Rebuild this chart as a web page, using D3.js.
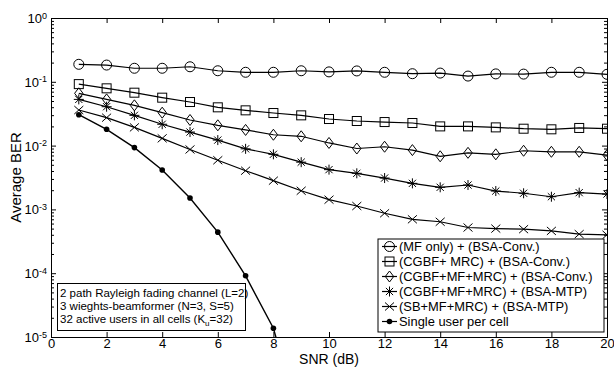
<!DOCTYPE html>
<html lang="en">
<head>
<meta charset="UTF-8">
<title>Average BER vs SNR</title>
<script src="https://d3js.org/d3.v7.min.js"></script>
<style>
  body { margin: 0; background: #fff; }
  text { font-family: "Liberation Sans", Arial, sans-serif; fill: #000; }
</style>
</head>
<body>
<div id="chart"></div>
<script>
// SNR points (dB)
const snr = [1, 2, 3, 4, 5, 6, 7, 8, 9, 10, 11, 12, 13, 14, 15, 16, 17, 18, 19, 20];

// Average BER
const berMF = [0.188, 0.183, 0.163, 0.163, 0.172, 0.149, 0.141, 0.141, 0.149, 0.143,
               0.148, 0.141, 0.134, 0.137, 0.123, 0.133, 0.132, 0.141, 0.141, 0.131];
const berCGBF = [0.092, 0.079, 0.0675, 0.0564, 0.0482, 0.0398, 0.0357, 0.0324, 0.0298, 0.0261,
                 0.0243, 0.0234, 0.0226, 0.0200, 0.0200, 0.0193, 0.0184, 0.0180, 0.0189, 0.0184];
const berCGBFMF = [0.066, 0.053, 0.0428, 0.0328, 0.0252, 0.0208, 0.0176, 0.0148, 0.0140, 0.0110,
                   0.0090, 0.0096, 0.0085, 0.0068, 0.0077, 0.0073, 0.0083, 0.0080, 0.0080, 0.0071];
const berCGBFMTP = [0.053, 0.0407, 0.0298, 0.0216, 0.0163, 0.0122, 0.0089, 0.0073, 0.0055, 0.0042,
                    0.00368, 0.0031, 0.00256, 0.00222, 0.00241, 0.00194, 0.00179, 0.00158, 0.00183, 0.00174];
const berSB = [0.0361, 0.0274, 0.0193, 0.0130, 0.0087, 0.0059, 0.00404, 0.00282, 0.00196, 0.00142,
               0.00113, 0.00087, 0.00070, 0.00064, 0.00052, 0.00050, 0.00049, 0.00046, 0.00041, 0.00040];
const snrSingle = [1, 2, 3, 4, 5, 6, 7, 8, 9];
const berSingle = [0.0305, 0.018, 0.0093, 0.00415, 0.00151, 0.00044, 0.000091, 0.0000137, 0.0000004];

const legendLabels = [
  "(MF only) + (BSA-Conv.)",
  "(CGBF+ MRC) + (BSA-Conv.)",
  "(CGBF+MF+MRC) + (BSA-Conv.)",
  "(CGBF+MF+MRC) + (BSA-MTP)",
  "(SB+MF+MRC) + (BSA-MTP)",
  "Single user per cell"
];
const xTicks = [0, 2, 4, 6, 8, 10, 12, 14, 16, 18, 20];
const yDecades = [1e-5, 1e-4, 1e-3, 1e-2, 1e-1, 1];
const yExponents = ["-5", "-4", "-3", "-2", "-1", "0"];
const noteLines = ["2 path Rayleigh fading channel (L=2)", "3 wieghts-beamformer (N=3, S=5)"];

const width = 614, height = 367;
const margin = { top: 18, right: 7, bottom: 30, left: 51 };

const svg = d3.select('#chart').append('svg')
  .attr('width', width)
  .attr('height', height);

const x = d3.scaleLinear().domain([0, 20]).range([margin.left, width - margin.right]);
const y = d3.scaleLog().domain([1e-5, 1]).range([height - margin.bottom, margin.top]);

// minor log ticks
const minor = [];
yDecades.slice(0, -1).forEach(d => { for (let k = 2; k <= 9; k++) minor.push(d * k); });

// marker shapes (Matlab style)
function marker(g, type) {
  if (type === 'o') {
    g.append('circle').attr('r', 5).attr('fill', 'none').attr('stroke', '#000');
  } else if (type === 's') {
    g.append('rect').attr('x', -4.5).attr('y', -4.5).attr('width', 9).attr('height', 9)
      .attr('fill', 'none').attr('stroke', '#000');
  } else if (type === 'd') {
    g.append('path').attr('d', 'M0,-5.5L4.2,0L0,5.5L-4.2,0Z').attr('fill', 'none').attr('stroke', '#000');
  } else if (type === '*') {
    g.append('path').attr('d', 'M0,-5V5M-5,0H5M-3.6,-3.6L3.6,3.6M-3.6,3.6L3.6,-3.6')
      .attr('stroke', '#000');
  } else if (type === 'x') {
    g.append('path').attr('d', 'M-4.5,-4L4.5,4M-4.5,4L4.5,-4').attr('stroke', '#000');
  } else if (type === '.') {
    g.append('circle').attr('r', 2.8).attr('fill', '#000');
  }
}

const series = [
  { xs: snr, ys: berMF, m: 'o' },
  { xs: snr, ys: berCGBF, m: 's' },
  { xs: snr, ys: berCGBFMF, m: 'd' },
  { xs: snr, ys: berCGBFMTP, m: '*' },
  { xs: snr, ys: berSB, m: 'x' },
  { xs: snrSingle, ys: berSingle, m: '.' }
];

// clip to plot area
svg.append('clipPath').attr('id', 'clip').append('rect')
  .attr('x', margin.left).attr('y', margin.top)
  .attr('width', width - margin.left - margin.right)
  .attr('height', height - margin.top - margin.bottom);

const plot = svg.append('g').attr('clip-path', 'url(#clip)');

const line = d3.line().x(d => x(d[0])).y(d => y(d[1]));

series.forEach(s => {
  const pts = s.xs.map((v, i) => [v, s.ys[i]]);
  plot.append('path')
    .datum(pts)
    .attr('fill', 'none')
    .attr('stroke', '#000')
    .attr('stroke-width', s.m === '.' ? 1.4 : 1.2)
    .attr('d', line);
  plot.selectAll(null)
    .data(pts.filter(p => p[1] >= 1e-5))
    .enter().append('g')
    .attr('transform', p => `translate(${x(p[0])},${y(p[1])})`)
    .each(function () { marker(d3.select(this), s.m); });
});

// axes (ticks inside, Matlab box)
const fontSize = 13;
const xAxis = svg.append('g')
  .attr('transform', `translate(0,${y(1e-5)})`)
  .call(d3.axisBottom(x).tickValues(xTicks).tickSize(-5).tickSizeOuter(0).tickPadding(2));
xAxis.selectAll('text').style('font-size', fontSize + 'px');

svg.append('g')
  .attr('transform', `translate(0,${y(1)})`)
  .call(d3.axisTop(x).tickValues(xTicks).tickSize(-5).tickSizeOuter(0).tickFormat(''));

const yAxis = svg.append('g')
  .attr('transform', `translate(${margin.left},0)`)
  .call(d3.axisLeft(y).tickValues(yDecades).tickSize(-5).tickSizeOuter(0).tickPadding(4).tickFormat(''));
yAxis.selectAll('.tick').append('text')
  .attr('x', -4)
  .attr('dy', '0.35em')
  .attr('text-anchor', 'end')
  .style('font-size', fontSize + 'px')
  .each(function (d, i) {
    const t = d3.select(this);
    t.append('tspan').text('10');
    t.append('tspan').attr('dy', '-0.5em').style('font-size', '9px').text(yExponents[i]);
  });

svg.append('g')
  .attr('transform', `translate(${margin.left},0)`)
  .call(d3.axisLeft(y).tickValues(minor).tickSize(-3).tickSizeOuter(0).tickFormat(''));

svg.append('g')
  .attr('transform', `translate(${width - margin.right},0)`)
  .call(d3.axisRight(y).tickValues(yDecades).tickSize(-5).tickSizeOuter(0).tickFormat(''));
svg.append('g')
  .attr('transform', `translate(${width - margin.right},0)`)
  .call(d3.axisRight(y).tickValues(minor).tickSize(-3).tickSizeOuter(0).tickFormat(''));

svg.selectAll('.domain').attr('stroke', '#000');
svg.selectAll('.tick line').attr('stroke', '#000');

// axis labels
svg.append('text')
  .attr('x', (x(0) + x(20)) / 2)
  .attr('y', 364)
  .attr('text-anchor', 'middle')
  .style('font-size', '14px')
  .text('SNR (dB)');

svg.append('text')
  .attr('transform', `translate(21,${(y(1) + y(1e-5)) / 2}) rotate(-90)`)
  .attr('text-anchor', 'middle')
  .style('font-size', '15px')
  .text('Average BER');

// legend
const legend = svg.append('g');
legend.append('rect')
  .attr('x', 378).attr('y', 239).attr('width', 226).attr('height', 93)
  .attr('fill', '#fff').attr('stroke', '#000');
legendLabels.forEach((lab, i) => {
  const cy = 246.5 + i * 15;
  legend.append('line').attr('x1', 382).attr('x2', 397).attr('y1', cy).attr('y2', cy)
    .attr('stroke', '#000').attr('stroke-width', 1.2);
  const g = legend.append('g').attr('transform', `translate(389.5,${cy})`);
  marker(g, series[i].m);
  legend.append('text').attr('x', 399).attr('y', cy).attr('dy', '0.35em')
    .style('font-size', '12.9px').text(lab);
});

// annotation box
const note = svg.append('g');
note.append('rect')
  .attr('x', 57.5).attr('y', 283.5).attr('width', 188).attr('height', 47)
  .attr('fill', '#fff').attr('stroke', '#000');
noteLines.forEach((t, i) => {
  note.append('text').attr('x', 60).attr('y', 297 + i * 13)
    .style('font-size', '11.5px').text(t);
});
const last = note.append('text').attr('x', 60).attr('y', 323).style('font-size', '11.5px');
last.append('tspan').text('32 active users in all cells (K');
last.append('tspan').attr('dy', '3').style('font-size', '8px').text('u');
last.append('tspan').attr('dy', '-3').text('=32)');
</script>
</body>
</html>
